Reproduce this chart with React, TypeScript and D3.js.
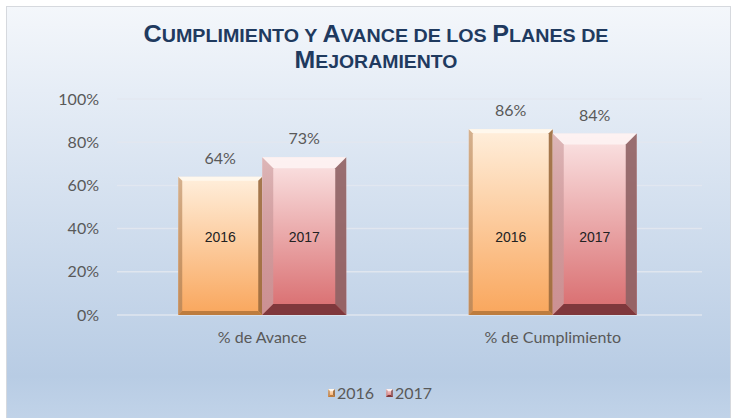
import React from "react";
import * as d3 from "d3";

const categories = ["% de Avance", "% de Cumplimiento"];
const seriesNames = ["2016", "2017"];
const values2016 = [0.64, 0.86];
const values2017 = [0.73, 0.84];
const yTicks = [0, 0.2, 0.4, 0.6, 0.8, 1.0];
const titleLines = ["Cumplimiento y Avance de los Planes de", "Mejoramiento"];

const W = 738;
const H = 418;
const plot = { left: 117, right: 698, top: 99, bottom: 315 };

type Style = {
  bevel: number;
  face: [string, string];
  top: string;
  left: string;
  right: string;
  bottom: string;
};

const styles: Style[] = [
  { bevel: 4, face: ["#ffefdc", "#f9a65c"], top: "#fff8ee", left: "#b8875a", right: "#9a6a3e", bottom: "#b9793c" },
  { bevel: 11, face: ["#fbe5e5", "#d86a6c"], top: "#fdf3f3", left: "#c9989a", right: "#8e6264", bottom: "#7a3539" },
];

function Bar({ x, y, w, h, s, id }: { x: number; y: number; w: number; h: number; s: Style; id: string }) {
  const b = s.bevel;
  const x1 = x + w;
  const y1 = y + h;
  const pts = (a: number[][]) => a.map((p) => p.join(",")).join(" ");
  return (
    <g>
      <defs>
        <linearGradient id={`face${id}`} x1="0" y1="0" x2="0" y2="1">
          <stop offset="0" stopColor={s.face[0]} />
          <stop offset="1" stopColor={s.face[1]} />
        </linearGradient>
        <linearGradient id={`l${id}`} x1="0" y1="0" x2="0" y2="1">
          <stop offset="0" stopColor={s.left} stopOpacity={0.7} />
          <stop offset="1" stopColor={s.left} />
        </linearGradient>
      </defs>
      <rect x={x} y={y} width={w} height={h} fill={`url(#face${id})`} />
      <polygon points={pts([[x, y], [x1, y], [x1 - b, y + b], [x + b, y + b]])} fill={s.top} opacity={0.9} />
      <polygon points={pts([[x, y], [x + b, y + b], [x + b, y1 - b], [x, y1]])} fill={`url(#l${id})`} opacity={0.85} />
      <polygon points={pts([[x1, y], [x1, y1], [x1 - b, y1 - b], [x1 - b, y + b]])} fill={s.right} opacity={0.9} />
      <polygon points={pts([[x, y1], [x + b, y1 - b], [x1 - b, y1 - b], [x1, y1]])} fill={s.bottom} opacity={0.95} />
    </g>
  );
}

function SmallCaps({ text, big, small }: { text: string; big: number; small: number }) {
  const parts: { s: string; bigCase: boolean }[] = [];
  for (const ch of text) {
    const isBig = ch !== ch.toLowerCase();
    const last = parts[parts.length - 1];
    if (last && last.bigCase === isBig) last.s += ch;
    else parts.push({ s: ch, bigCase: isBig });
  }
  return (
    <>
      {parts.map((p, i) => (
        <tspan key={i} fontSize={p.bigCase ? big : small}>
          {p.s.toUpperCase()}
        </tspan>
      ))}
    </>
  );
}

export default function App() {
  const y = d3.scaleLinear().domain([0, 1]).range([plot.bottom, plot.top]);
  const x0 = d3
    .scaleBand<string>()
    .domain(categories)
    .range([plot.left, plot.right])
    .paddingInner(0.4217)
    .paddingOuter(0.4217 / 2);
  const x1 = d3.scaleBand<string>().domain(seriesNames).range([0, x0.bandwidth()]);
  const series = [values2016, values2017];
  const fmt = d3.format(".0%");
  const font = "Lato, 'Open Sans', sans-serif";

  return (
    <svg width={W} height={H} style={{ position: "absolute", left: 0, top: 0 }}>
      <defs>
        <linearGradient id="bg" x1="0" y1="0" x2="0" y2="1">
          <stop offset="0" stopColor="#f4f7fb" />
          <stop offset="0.2" stopColor="#e6edf6" />
          <stop offset="0.88" stopColor="#b8cce4" />
          <stop offset="1" stopColor="#c2d4e9" />
        </linearGradient>
      </defs>
      <rect x={0} y={0} width={W} height={H} fill="#ffffff" />
      <rect x={6.5} y={6.5} width={724} height={420} fill="url(#bg)" stroke="#d6d9de" strokeWidth={1} />

      {titleLines.map((t, i) => (
        <text
          key={i}
          x={376}
          y={42 + i * 26}
          textAnchor="middle"
          fontFamily="'Liberation Sans', Arial, sans-serif"
          fontWeight="bold"
          fill="#1f3a5f"
          textLength={i === 0 ? 465 : 163}
          lengthAdjust="spacingAndGlyphs"
        >
          <SmallCaps text={t} big={23} small={18} />
        </text>
      ))}

      {yTicks.map((t) => (
        <g key={t}>
          <line x1={plot.left} x2={plot.right + 4} y1={y(t)} y2={y(t)} stroke="#e3e8f0" strokeWidth={1.5} opacity={0.9} />
          <text x={99} y={y(t) + 5.5} textAnchor="end" fontFamily={font} fontSize={16} fill="#595959">
            {fmt(t)}
          </text>
        </g>
      ))}

      {categories.map((c, ci) => (
        <g key={c}>
          {seriesNames.map((sn, si) => {
            const v = series[si][ci];
            const bx = (x0(c) ?? 0) + (x1(sn) ?? 0);
            const bw = x1.bandwidth();
            const by = y(v);
            return (
              <g key={sn}>
                <Bar x={bx} y={by} w={bw} h={plot.bottom - by} s={styles[si]} id={`${ci}${si}`} />
                <text x={bx + bw / 2} y={by - 13} textAnchor="middle" fontFamily={font} fontSize={16} fill="#595959">
                  {fmt(v)}
                </text>
                <text x={bx + bw / 2} y={y(0.36) + 5} textAnchor="middle" fontFamily="'Liberation Sans', Arial, sans-serif" fontSize={14} fill="#222">
                  {sn}
                </text>
              </g>
            );
          })}
          <text x={(x0(c) ?? 0) + x0.bandwidth() / 2} y={343} textAnchor="middle" fontFamily={font} fontSize={16} fill="#595959">
            {c}
          </text>
        </g>
      ))}

      {seriesNames.map((sn, si) => {
        const lx = 328 + si * 58;
        return (
          <g key={sn}>
            <Bar x={lx} y={389} w={7} h={8} s={{ ...styles[si], bevel: 2 }} id={`leg${si}`} />
            <text x={lx + 9} y={399} fontFamily={font} fontSize={16} fill="#595959">
              {sn}
            </text>
          </g>
        );
      })}
    </svg>
  );
}
